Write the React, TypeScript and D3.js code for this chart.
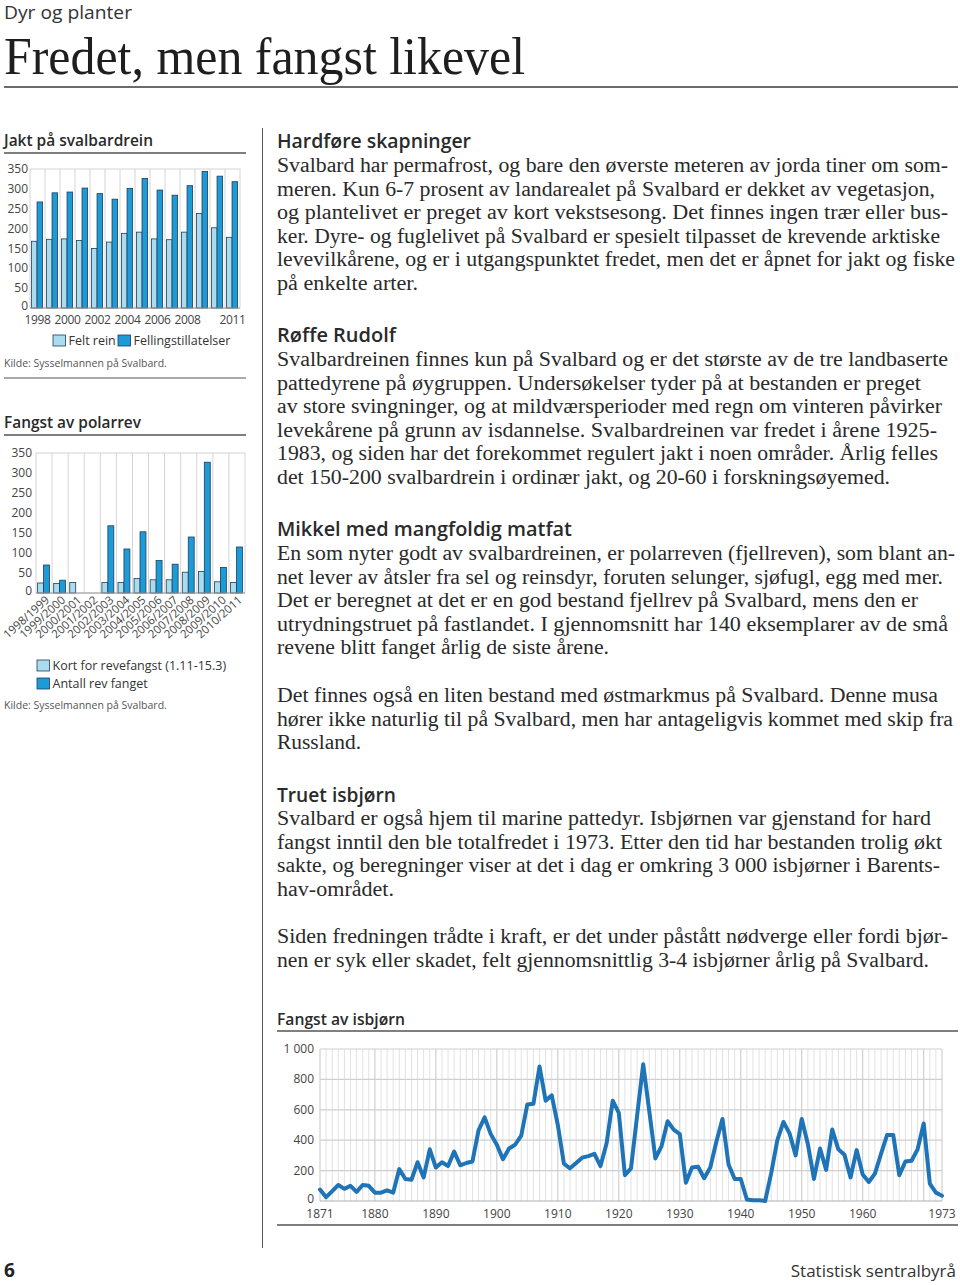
import React from 'react';
import * as d3 from 'd3';

// Jakt på svalbardrein
const reinYears = [1998, 1999, 2000, 2001, 2002, 2003, 2004, 2005, 2006, 2007, 2008, 2009, 2010, 2011];
const reinTickYears = [1998, 2000, 2002, 2004, 2006, 2008, 2011];
const feltRein = [168, 173, 174, 170, 150, 166, 188, 191, 174, 172, 191, 238, 202, 178];
const fellingstillatelser = [267, 290, 292, 302, 288, 274, 301, 326, 297, 284, 308, 344, 332, 318];

// Fangst av polarrev
const revSeasons = ['1998/1999', '1999/2000', '2000/2001', '2001/2002', '2002/2003', '2003/2004', '2004/2005',
  '2005/2006', '2006/2007', '2007/2008', '2008/2009', '2009/2010', '2010/2011'];
const kortRevefangst = [25, 24, 26, null, 26, 26, 36, 33, 33, 52, 54, 28, 26];
const antallRevFanget = [70, 32, null, null, 168, 110, 153, 81, 72, 140, 327, 64, 115];

const barTicks = [0, 50, 100, 150, 200, 250, 300, 350];

// Fangst av isbjørn, 1871-1973
const bjornStart = 1871;
const bjornFangst = [
  75, 25, 65, 105, 80, 100, 60, 105, 100, 55,
  55, 70, 55, 210, 145, 140, 255, 155, 340, 220,
  255, 230, 325, 235, 250, 260, 465, 550, 440, 370,
  275, 345, 370, 430, 635, 640, 885, 660, 695, 500,
  245, 215, 250, 285, 295, 310, 230, 380, 660, 580,
  170, 215, 560, 900, 590, 280, 360, 525, 470, 440,
  120, 220, 225, 150, 220, 390, 540, 240, 145, 145,
  10, 5, 5, 0, 185, 400, 520, 445, 300, 540,
  375, 145, 345, 205, 470, 340, 305, 155, 335, 175,
  125, 180, 310, 435, 435, 170, 260, 265, 340, 510,
  115, 55, 35,
];
const bjornTickYears = [1871, 1880, 1890, 1900, 1910, 1920, 1930, 1940, 1950, 1960, 1973];
const bjornYTicks = [0, 200, 400, 600, 800, 1000];

// body text: [line, right edge in reference]
const hardfore: [string, number][] = [
  ['Svalbard har permafrost, og bare den øverste meteren av jorda tiner om som-', 948],
  ['meren. Kun 6-7 prosent av landarealet på Svalbard er dekket av vegetasjon,', 935],
  ['og plantelivet er preget av kort vekstsesong. Det finnes ingen trær eller bus-', 948],
  ['ker. Dyre- og fuglelivet på Svalbard er spesielt tilpasset de krevende arktiske', 940],
  ['levevilkårene, og er i utgangspunktet fredet, men det er åpnet for jakt og fiske', 955],
  ['på enkelte arter.', 418],
];
const rudolf: [string, number][] = [
  ['Svalbardreinen finnes kun på Svalbard og er det største av de tre landbaserte', 948],
  ['pattedyrene på øygruppen. Undersøkelser tyder på at bestanden er preget', 921],
  ['av store svingninger, og at mildværsperioder med regn om vinteren påvirker', 942],
  ['levekårene på grunn av isdannelse. Svalbardreinen var fredet i årene 1925-', 937],
  ['1983, og siden har det forekommet regulert jakt i noen områder. Årlig felles', 938],
  ['det 150-200 svalbardrein i ordinær jakt, og 20-60 i forskningsøyemed.', 890],
];
const mikkel: [string, number][] = [
  ['En som nyter godt av svalbardreinen, er polarreven (fjellreven), som blant an-', 955],
  ['net lever av åtsler fra sel og reinsdyr, foruten selunger, sjøfugl, egg med mer.', 943],
  ['Det er beregnet at det er en god bestand fjellrev på Svalbard, mens den er', 918],
  ['utrydningstruet på fastlandet. I gjennomsnitt har 140 eksemplarer av de små', 948],
  ['revene blitt fanget årlig de siste årene.', 609],
];
const markmus: [string, number][] = [
  ['Det finnes også en liten bestand med østmarkmus på Svalbard. Denne musa', 938],
  ['hører ikke naturlig til på Svalbard, men har antageligvis kommet med skip fra', 953],
  ['Russland.', 361],
];
const isbjorn: [string, number][] = [
  ['Svalbard er også hjem til marine pattedyr. Isbjørnen var gjenstand for hard', 931],
  ['fangst inntil den ble totalfredet i 1973. Etter den tid har bestanden trolig økt', 942],
  ['sakte, og beregninger viser at det i dag er omkring 3 000 isbjørner i Barents-', 940],
  ['hav-området.', 394],
];
const fredning: [string, number][] = [
  ['Siden fredningen trådte i kraft, er det under påstått nødverge eller fordi bjør-', 948],
  ['nen er syk eller skadet, felt gjennomsnittlig 3-4 isbjørner årlig på Svalbard.', 929],
];

const SANS = '"Open Sans", "Noto Sans", sans-serif';
const SERIF = '"Liberation Serif", serif';
const LIGHT = '#a9dcec';
const DARK = '#1c9bd7';
const EDGE = '#1f3d5c';
const GRID = '#d4d4d4';
const TEXT = '#2a2a2a';

const COL_X = 277;
const LINE_H = 23.6;

const Para = ({ lines, y }: { lines: [string, number][]; y: number }) => (
  <g fontFamily={SERIF} fontSize={20} fill={TEXT}>
    {lines.map(([t, end], i) => (
      <text key={i} x={COL_X} y={y + i * LINE_H} textLength={end - COL_X} lengthAdjust="spacingAndGlyphs">{t}</text>
    ))}
  </g>
);

const Heading = ({ text, x, y, w, size = 19 }: { text: string; x: number; y: number; w: number; size?: number }) => (
  <text x={x} y={y} fontFamily={SANS} fontWeight={600} fontSize={size} fill={TEXT}
    textLength={w} lengthAdjust="spacingAndGlyphs">{text}</text>
);

type BarProps = {
  cats: (string | number)[];
  a: (number | null)[];
  b: (number | null)[];
  left: number; right: number; top: number; bottom: number;
  labelX: number;
  tickLabel: (c: string | number, i: number) => React.ReactNode;
};

const BarChart = ({ cats, a, b, left, right, top, bottom, labelX, tickLabel }: BarProps) => {
  const x = d3.scaleBand<string | number>().domain(cats).range([left, right]).padding(0);
  const y = d3.scaleLinear().domain([0, 350]).range([bottom, top]);
  const bw = x.bandwidth();
  return (
    <g>
      <rect x={left} y={top} width={right - left} height={bottom - top} fill="#fff" stroke={GRID} strokeWidth={1} />
      {cats.slice(1).map((c) => (
        <line key={String(c)} x1={x(c)!} x2={x(c)!} y1={top} y2={bottom} stroke={GRID} strokeWidth={1} />
      ))}
      {cats.map((c, i) => (
        <g key={String(c)}>
          {a[i] != null && (
            <rect x={x(c)! + bw * 0.1} y={y(a[i] as number)} width={bw * 0.37} height={y(0) - y(a[i] as number)}
              fill={LIGHT} stroke={EDGE} strokeWidth={0.8} />
          )}
          {b[i] != null && (
            <rect x={x(c)! + bw * 0.47} y={y(b[i] as number)} width={bw * 0.37} height={y(0) - y(b[i] as number)}
              fill={DARK} stroke={EDGE} strokeWidth={0.8} />
          )}
        </g>
      ))}
      <line x1={left} x2={right} y1={bottom} y2={bottom} stroke="#9a9a9a" strokeWidth={1} />
      {barTicks.map((t) => (
        <text key={t} x={labelX} y={t === 0 ? y(t) - 2 : y(t)} dy="0.34em" textAnchor="end" fontFamily={SANS} fontSize={12} fill="#444">{t}</text>
      ))}
      {cats.map((c, i) => tickLabel(c, i) && (
        <g key={'l' + String(c)} transform={`translate(${x(c)! + bw / 2},0)`}>{tickLabel(c, i)}</g>
      ))}
    </g>
  );
};

const Legend = ({ items, x, y, horizontal, gap }: { items: [string, string][]; x: number; y: number; horizontal?: boolean; gap: number }) => (
  <g fontFamily={SANS} fontSize={12.5} fill="#333">
    {items.map(([label, col], i) => {
      const gx = horizontal ? x + i * gap : x;
      const gy = horizontal ? y : y + i * gap;
      return (
        <g key={label} transform={`translate(${gx},${gy})`}>
          <rect x={0} y={-10} width={12.5} height={11} fill={col} stroke={EDGE} strokeWidth={0.8} />
          <text x={15.5} y={0}>{label}</text>
        </g>
      );
    })}
  </g>
);

const BjornChart = () => {
  const left = 320, right = 942, top = 1049, bottom = 1201;
  const years = bjornFangst.map((_, i) => bjornStart + i);
  const x = d3.scaleLinear().domain([bjornStart, bjornStart + bjornFangst.length - 1]).range([left, right]);
  const y = d3.scaleLinear().domain([0, 1000]).range([bottom, top]);
  const line = d3.line<number>().x((_, i) => x(years[i])).y((d) => y(d));
  return (
    <g>
      {years.map((yr) => (
        <line key={yr} x1={x(yr)} x2={x(yr)} y1={top} y2={bottom}
          stroke={yr % 10 === 0 || yr === 1871 || yr === 1973 ? '#c6c6c6' : '#e2e2e2'} strokeWidth={1} />
      ))}
      {bjornYTicks.map((t) => (
        <g key={t}>
          <line x1={left} x2={right} y1={y(t)} y2={y(t)} stroke={t === 0 ? '#b0b0b0' : '#cfcfcf'} strokeWidth={1.2} />
          <text x={314} y={t === 0 ? y(t) - 2 : y(t)} dy="0.34em" textAnchor="end" fontFamily={SANS} fontSize={12} fill="#444">
            {d3.format(',')(t).replace(',', ' ')}
          </text>
        </g>
      ))}
      {bjornTickYears.map((t) => (
        <text key={t} x={x(t)} y={1218} textAnchor="middle" fontFamily={SANS} fontSize={12} fill="#444">{t}</text>
      ))}
      <path d={line(bjornFangst) || ''} fill="none" stroke="#1f73b7" strokeWidth={4} strokeLinejoin="round" strokeLinecap="round" />
    </g>
  );
};

export default function App() {
  return (
    <div style={{ position: 'absolute', left: 0, top: 0 }}>
      <svg width={960} height={1285} viewBox="0 0 960 1285" style={{ display: 'block', background: '#fff' }}>
        {/* page head */}
        <text x={4} y={19} fontFamily={SANS} fontSize={19} fill="#333" textLength={128} lengthAdjust="spacingAndGlyphs">Dyr og planter</text>
        <text x={4} y={74} fontFamily={SERIF} fontSize={52} fill="#1e1e1e" textLength={521} lengthAdjust="spacingAndGlyphs">Fredet, men fangst likevel</text>
        <line x1={4} x2={958} y1={87} y2={87} stroke="#6b6b6b" strokeWidth={2} />

        {/* column divider */}
        <line x1={262.5} x2={262.5} y1={128} y2={1248} stroke="#555" strokeWidth={1} />

        {/* Jakt på svalbardrein */}
        <Heading text="Jakt på svalbardrein" x={4} y={146} w={149} size={15.5} />
        <line x1={4} x2={246} y1={153} y2={153} stroke="#555" strokeWidth={1.5} />
        <BarChart cats={reinYears} a={feltRein} b={fellingstillatelser} left={30} right={240} top={169} bottom={308} labelX={28}
          tickLabel={(c) => reinTickYears.includes(c as number) ? (
            <text x={0} y={324} textAnchor="middle" fontFamily={SANS} fontSize={12} letterSpacing={-0.4} fill="#444">{c}</text>
          ) : null} />
        <Legend items={[['Felt rein', LIGHT], ['Fellingstillatelser', DARK]]} x={53} y={345} horizontal gap={65} />
        <text x={4} y={367} fontFamily={SANS} fontSize={10.5} fill="#555">Kilde: Sysselmannen på Svalbard.</text>
        <line x1={4} x2={246} y1={378} y2={378} stroke="#555" strokeWidth={1} />

        {/* Fangst av polarrev */}
        <Heading text="Fangst av polarrev" x={4} y={428} w={137} size={15.5} />
        <line x1={4} x2={246} y1={435} y2={435} stroke="#555" strokeWidth={1.5} />
        <BarChart cats={revSeasons} a={kortRevefangst} b={antallRevFanget} left={36} right={245} top={453} bottom={593} labelX={32}
          tickLabel={(c) => (
            <text transform="translate(6,601) rotate(-42)" textAnchor="end" fontFamily={SANS} fontSize={11.5} fill="#444">{c}</text>
          )} />
        <Legend items={[['Kort for revefangst (1.11-15.3)', LIGHT], ['Antall rev fanget', DARK]]} x={37} y={670} gap={18} />
        <text x={4} y={709} fontFamily={SANS} fontSize={10.5} fill="#555">Kilde: Sysselmannen på Svalbard.</text>

        {/* right column text */}
        <Heading text="Hardføre skapninger" x={COL_X} y={148} w={194} />
        <Para lines={hardfore} y={172} />
        <Heading text="Røffe Rudolf" x={COL_X} y={342} w={119} />
        <Para lines={rudolf} y={366} />
        <Heading text="Mikkel med mangfoldig matfat" x={COL_X} y={536} w={295} />
        <Para lines={mikkel} y={560} />
        <Para lines={markmus} y={702} />
        <Heading text="Truet isbjørn" x={COL_X} y={802} w={119} />
        <Para lines={isbjorn} y={825} />
        <Para lines={fredning} y={943} />

        {/* Fangst av isbjørn */}
        <Heading text="Fangst av isbjørn" x={COL_X} y={1025} w={128} size={15.5} />
        <line x1={COL_X} x2={958} y1={1031} y2={1031} stroke="#555" strokeWidth={1.5} />
        <BjornChart />
        <line x1={COL_X} x2={958} y1={1225} y2={1225} stroke="#555" strokeWidth={1.5} />

        {/* footer */}
        <text x={4} y={1277} fontFamily={SANS} fontWeight={700} fontSize={19} fill="#222">6</text>
        <text x={956} y={1277} textAnchor="end" fontFamily={SANS} fontSize={17} fill="#333">Statistisk sentralbyrå</text>
      </svg>
    </div>
  );
}
